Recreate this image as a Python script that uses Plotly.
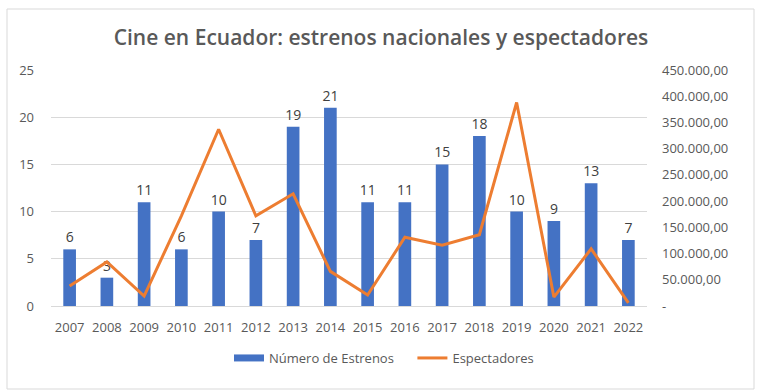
import plotly.graph_objects as go

years = [str(y) for y in range(2007, 2023)]
estrenos = [6, 3, 11, 6, 10, 7, 19, 21, 11, 11, 15, 18, 10, 9, 13, 7]
espectadores = [38000, 84000, 19000, 172000, 337000, 172000, 214000, 66000,
                21000, 131000, 116000, 136000, 388000, 17000, 109000, 6000]

y2_vals = [0, 50000, 100000, 150000, 200000, 250000, 300000, 350000, 400000, 450000]
y2_text = ["-", "50.000,00", "100.000,00", "150.000,00", "200.000,00", "250.000,00",
           "300.000,00", "350.000,00", "400.000,00", "450.000,00"]

FONT = "Open Sans"
GRAY = "#595959"
BLUE = "#4472C4"
ORANGE = "#ED7D31"

fig = go.Figure()
fig.add_trace(go.Bar(
    x=years, y=estrenos, name="Número de Estrenos", showlegend=False,
    marker=dict(color=BLUE, line=dict(width=0)),
    text=estrenos, textposition="outside", constraintext="none",
    textfont=dict(family=FONT, size=14, color="#404040"),
    cliponaxis=False, width=0.34,
))
fig.add_trace(go.Scatter(
    x=years, y=espectadores, name="Espectadores", yaxis="y2", showlegend=False,
    mode="lines", line=dict(color=ORANGE, width=3),
))
# legend entries
fig.add_trace(go.Scatter(x=[None], y=[None], name="Número de Estrenos\u00a0\u00a0\u00a0\u00a0",
                         mode="lines", line=dict(color=BLUE, width=7)))
fig.add_trace(go.Scatter(x=[None], y=[None], name="Espectadores", yaxis="y2",
                         mode="lines", line=dict(color=ORANGE, width=3)))

L, R, T, B = 51, 121, 70, 86
W, H = 768, 392
pw, ph = W - L - R, H - T - B

fig.update_layout(
    width=W, height=H,
    margin=dict(l=L, r=R, t=T, b=B, autoexpand=False),
    paper_bgcolor="white", plot_bgcolor="white",
    font=dict(family=FONT, size=13, color=GRAY),
    title=dict(text="Cine en Ecuador: estrenos nacionales y espectadores",
               x=381 / W, xanchor="center", y=1 - 38 / H, yanchor="middle",
               font=dict(family=FONT, size=21, color=GRAY, weight=600)),
    bargap=0.66,
    xaxis=dict(type="category", showgrid=False, ticks="", showline=False,
               tickfont=dict(size=13, color=GRAY), ticklabelstandoff=12),
    yaxis=dict(range=[0, 25], dtick=5, showgrid=True, gridcolor="#D9D9D9",
               gridwidth=1, zeroline=True, zerolinecolor="#D9D9D9", zerolinewidth=1,
               tickfont=dict(size=13, color=GRAY), ticklabelstandoff=16),
    yaxis2=dict(range=[0, 450000], overlaying="y", side="right",
                tickvals=y2_vals, ticktext=y2_text, showgrid=False, zeroline=False,
                tickfont=dict(size=13, color=GRAY), ticklabelstandoff=14),
    legend=dict(orientation="h", x=(384 - L) / pw, xanchor="center",
                y=-(358 - (T + ph)) / ph, yanchor="middle",
                font=dict(size=13, color=GRAY), itemwidth=30, tracegroupgap=0),
)

# chart border
fig.add_shape(type="rect", xref="paper", yref="paper",
              x0=(7 - L) / pw, x1=(754 - L) / pw,
              y0=-(389 - (T + ph)) / ph, y1=1 + (T - 9) / ph,
              line=dict(color="#D9D9D9", width=1), layer="below")

fig.write_html("out.html", config={"displayModeBar": False},
               post_script="document.body.style.margin='0';")
